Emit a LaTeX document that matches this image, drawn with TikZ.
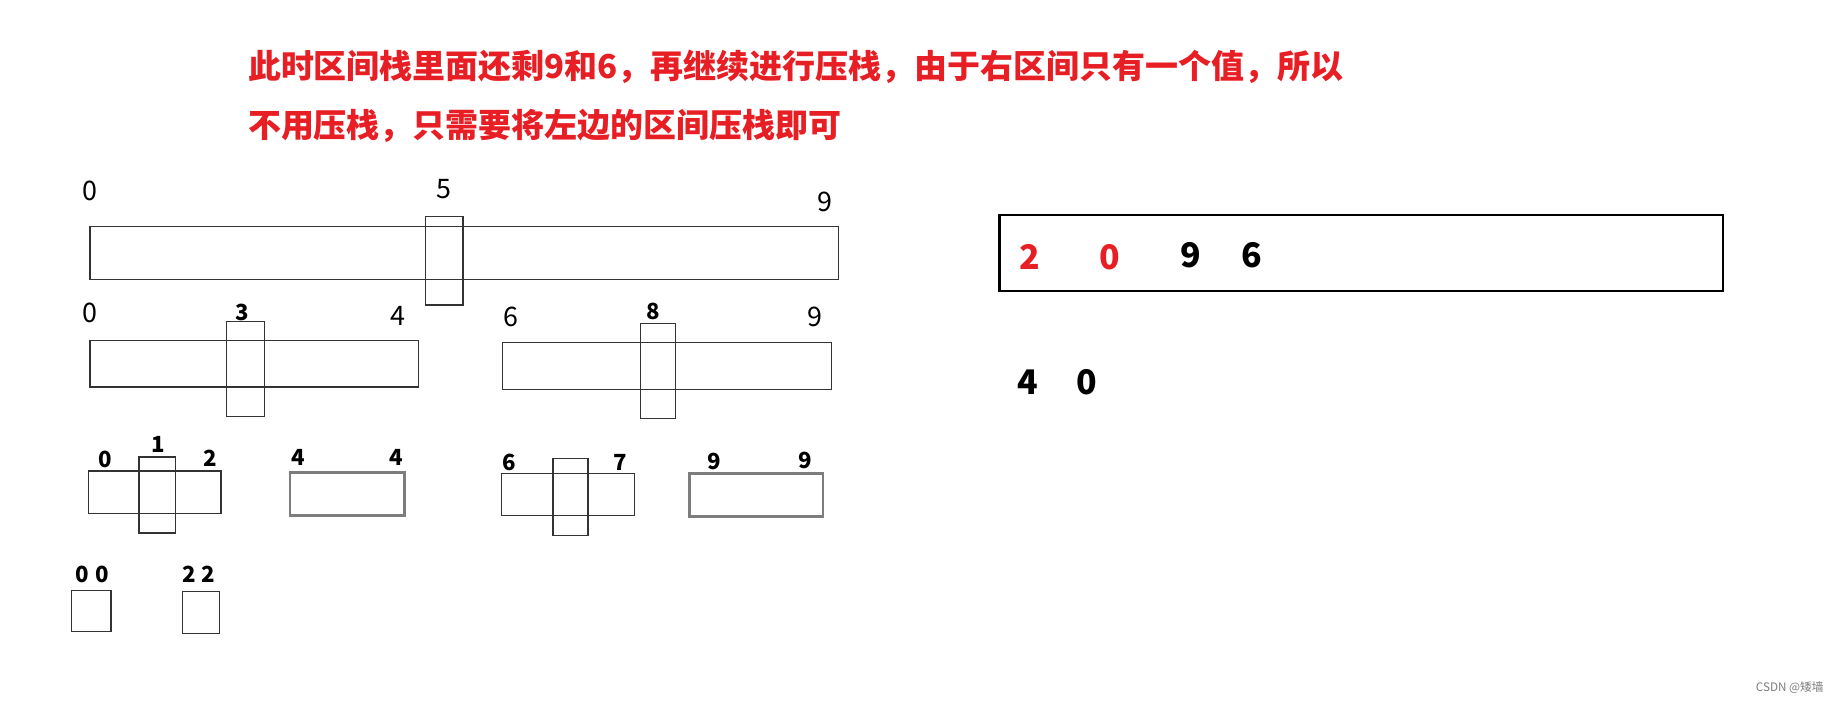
\documentclass[tikz,border=0pt]{standalone}
\usepackage{fontspec}
\setmainfont{Noto Sans CJK SC}
\newfontfamily\cjk{Noto Sans CJK SC}
\definecolor{tred}{RGB}{232,30,37}
\definecolor{lgray}{RGB}{51,51,51}
\definecolor{mgray}{RGB}{125,125,125}
\begin{document}
\begin{tikzpicture}[x=1pt,y=-1pt,
  seg/.style={draw=lgray,line width=1.1pt},
  gseg/.style={draw=mgray,line width=2.2pt},
  lab/.style={inner sep=0pt,font=\fontsize{23}{23}\selectfont},
  blab/.style={inner sep=0pt,font=\fontsize{19}{19}\selectfont\bfseries},
  slab/.style={inner sep=0pt,font=\fontsize{29}{29}\selectfont\bfseries},
  title/.style={inner sep=0pt,anchor=west,text=tred,font=\cjk\fontsize{28.2}{28}\selectfont\bfseries}]
\useasboundingbox[fill=white] (0,0) rectangle (1568,600);
% title
\node[title] (t1) at (212,57) {此时区间栈里面还剩9和6，再继续进行压栈，由于右区间只有一个值，所以};
\node[title] (t2) at (212,108) {不用压栈，只需要将左边的区间压栈即可};
% row 1
\draw[seg] (77,194) rectangle (717,239) coordinate (r1);
\draw[seg] (364,185) rectangle (396,261) coordinate (r1m);
\node[lab] (l10) at (77,163) {0};
\node[lab] (l15) at (380,162) {5};
\node[lab] (l19) at (706,173) {9};
% row 2
\draw[seg] (77,291) rectangle (358,331) coordinate (r2a);
\draw[seg] (194,275) rectangle (226,356) coordinate (r2am);
\node[lab] (l20) at (77,268) {0};
\node[blab] (l23) at (207,267) {3};
\node[lab] (l24) at (340,270) {4};
\draw[seg] (430,293) rectangle (711,333) coordinate (r2b);
\draw[seg] (548,277) rectangle (578,358) coordinate (r2bm);
\node[lab] (l26) at (437,271) {6};
\node[blab] (l28) at (559,266) {8};
\node[lab] (l29) at (697,271) {9};
% row 3
\draw[seg] (76,403) rectangle (189,439) coordinate (r3a);
\draw[seg] (119,391) rectangle (150,456) coordinate (r3am);
\node[blab] (l30) at (90,393) {0};
\node[blab] (l31) at (135,380) {1};
\node[blab] (l32) at (180,392) {2};
\draw[gseg] (248,404) rectangle (346,441) coordinate (r3b);
\node[blab] (l34a) at (255,391) {4};
\node[blab] (l34b) at (339,391) {4};
\draw[seg] (429,405) rectangle (543,441) coordinate (r3c);
\draw[seg] (473,392) rectangle (503,458) coordinate (r3cm);
\node[blab] (l36) at (436,396) {6};
\node[blab] (l37) at (531,396) {7};
\draw[gseg] (590,405) rectangle (704,442) coordinate (r3d);
\node[blab] (l39a) at (611,395) {9};
\node[blab] (l39b) at (689,394) {9};
% row 4
\draw[seg] (61,505) rectangle (95,540) coordinate (r4a);
\node[blab] (l400) at (79,491) {0\hspace{5pt}0};
\draw[seg] (156,506) rectangle (188,542) coordinate (r4b);
\node[blab] (l422) at (170,491) {2\hspace{5pt}2};
% stack
\draw[draw=black,line width=2.2pt] (855,184) rectangle (1474,249) coordinate (stk);
\node[slab,text=tred] (s1) at (881,220) {2};
\node[slab,text=tred] (s2) at (949,220) {0};
\node[slab] (s3) at (1019,218) {9};
\node[slab] (s4) at (1071,218) {6};
\node[slab] (p1) at (879,327) {4};
\node[slab] (p2) at (930,327) {0};
% credit
\node[inner sep=0pt,text=mgray,font=\fontsize{10}{10}\selectfont] (cr) at (1531,588) {CSDN @矮墙};
\end{tikzpicture}
\end{document}
